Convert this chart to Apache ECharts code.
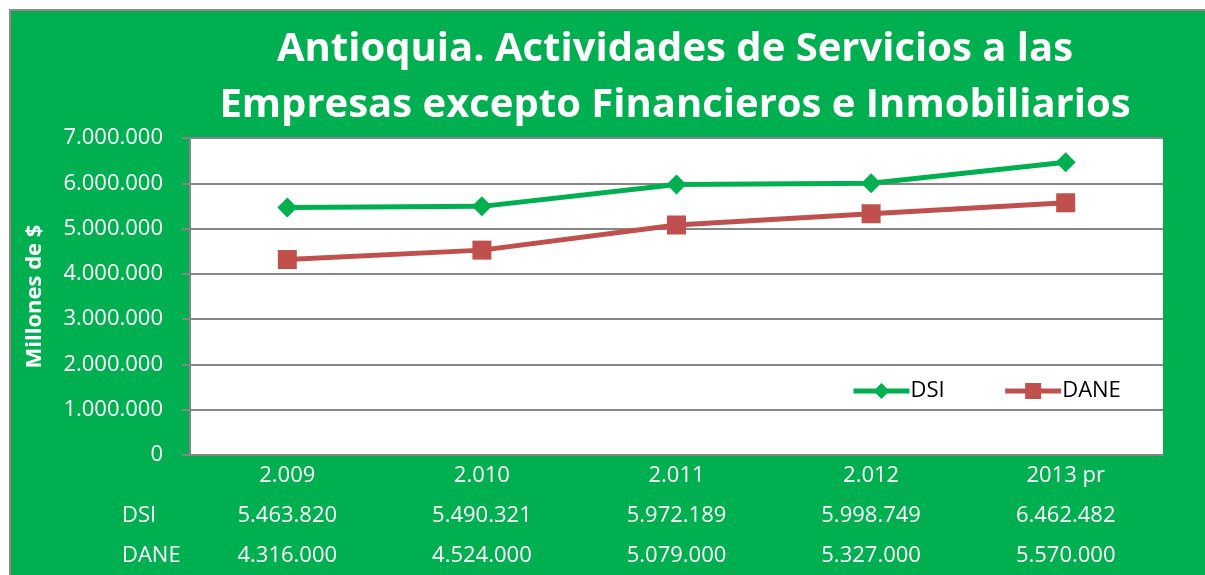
<!DOCTYPE html>
<html>
<head>
<meta charset="utf-8">
<script src="https://cdn.jsdelivr.net/npm/echarts@6/dist/echarts.min.js"></script>
<style>
  html, body { margin: 0; padding: 0; background: #fff; }
  #chart {
    position: absolute; left: 9px; top: 9px;
    width: 1194px; height: 564px;
    border-left: 2px solid #8c8c8c; border-top: 2px solid #8c8c8c;
  }
</style>
</head>
<body>
<div id="chart"></div>
<script>
const years = ['2.009', '2.010', '2.011', '2.012', '2013 pr']
const dsi = [5463820, 5490321, 5972189, 5998749, 6462482]
const dane = [4316000, 4524000, 5079000, 5327000, 5570000]

const GREEN = '#00b050'
const RED = '#c0504d'
const GRID = '#868686'
const FONT = '"Open Sans", sans-serif'

// 5463820 -> 5.463.820
const fmt = (v) => String(v).replace(/\B(?=(\d{3})+(?!\d))/g, '.')

const chart = echarts.init(document.getElementById('chart'))

function tableAxis(name, values, offset) {
  return {
    type: 'category',
    position: 'bottom',
    offset: offset,
    data: values.map(fmt),
    name: name,
    nameLocation: 'start',
    nameGap: 68,
    nameTextStyle: { color: '#fff', fontSize: 22, fontFamily: FONT, align: 'left', verticalAlign: 'top', padding: [10, 0, 0, 0] },
    axisLine: { show: false },
    axisTick: { show: false },
    axisLabel: { color: '#fff', fontSize: 22, fontFamily: FONT, margin: 10 },
  }
}

chart.setOption({
  backgroundColor: GREEN,
  textStyle: { fontFamily: FONT },
  title: {
    text: 'Antioquia. Actividades de Servicios a las\nEmpresas excepto Financieros e Inmobiliarios',
    left: 664,
    top: 11,
    padding: 0,
    textAlign: 'center',
    textStyle: { color: '#fff', fontSize: 40, fontWeight: 'bold', lineHeight: 56, fontFamily: FONT },
  },
  legend: {
    left: 835,
    top: 364,
    itemWidth: 56,
    itemHeight: 20,
    itemGap: 58,
    lineStyle: { width: 5 },
    textStyle: { color: '#000', fontSize: 22, fontFamily: FONT, padding: [0, 0, 0, -4] },
    data: ['DSI', 'DANE'],
  },
  grid: { left: 179, right: 42, top: 127, bottom: 120, backgroundColor: '#fff', show: true, borderWidth: 0 },
  xAxis: [
    {
      type: 'category',
      data: years,
      axisLine: { lineStyle: { color: GRID, width: 2 } },
      axisTick: { show: false },
      axisLabel: { color: '#fff', fontSize: 22, fontFamily: FONT, margin: 10 },
    },
    tableAxis('DSI', dsi, 40),
    tableAxis('DANE', dane, 80),
  ],
  yAxis: {
    type: 'value',
    min: 0,
    max: 7000000,
    interval: 1000000,
    name: 'Millones de $',
    nameLocation: 'middle',
    nameRotate: 90,
    nameGap: 144,
    nameTextStyle: { color: '#fff', fontSize: 22, fontWeight: 'bold', fontFamily: FONT },
    axisLine: { show: true, lineStyle: { color: GRID, width: 2 } },
    axisTick: { show: true, length: 8, lineStyle: { color: GRID, width: 2 } },
    axisLabel: { color: '#fff', fontSize: 22, fontFamily: FONT, margin: 27, formatter: fmt },
    splitLine: { lineStyle: { color: GRID, width: 2 } },
  },
  series: [
    {
      name: 'DSI',
      type: 'line',
      data: dsi,
      symbol: 'diamond',
      symbolSize: 20,
      lineStyle: { color: GREEN, width: 5 },
      itemStyle: { color: GREEN },
    },
    {
      name: 'DANE',
      type: 'line',
      data: dane,
      symbol: 'rect',
      symbolSize: 19,
      lineStyle: { color: RED, width: 5 },
      itemStyle: { color: RED },
    },
  ],
})
</script>
</body>
</html>
